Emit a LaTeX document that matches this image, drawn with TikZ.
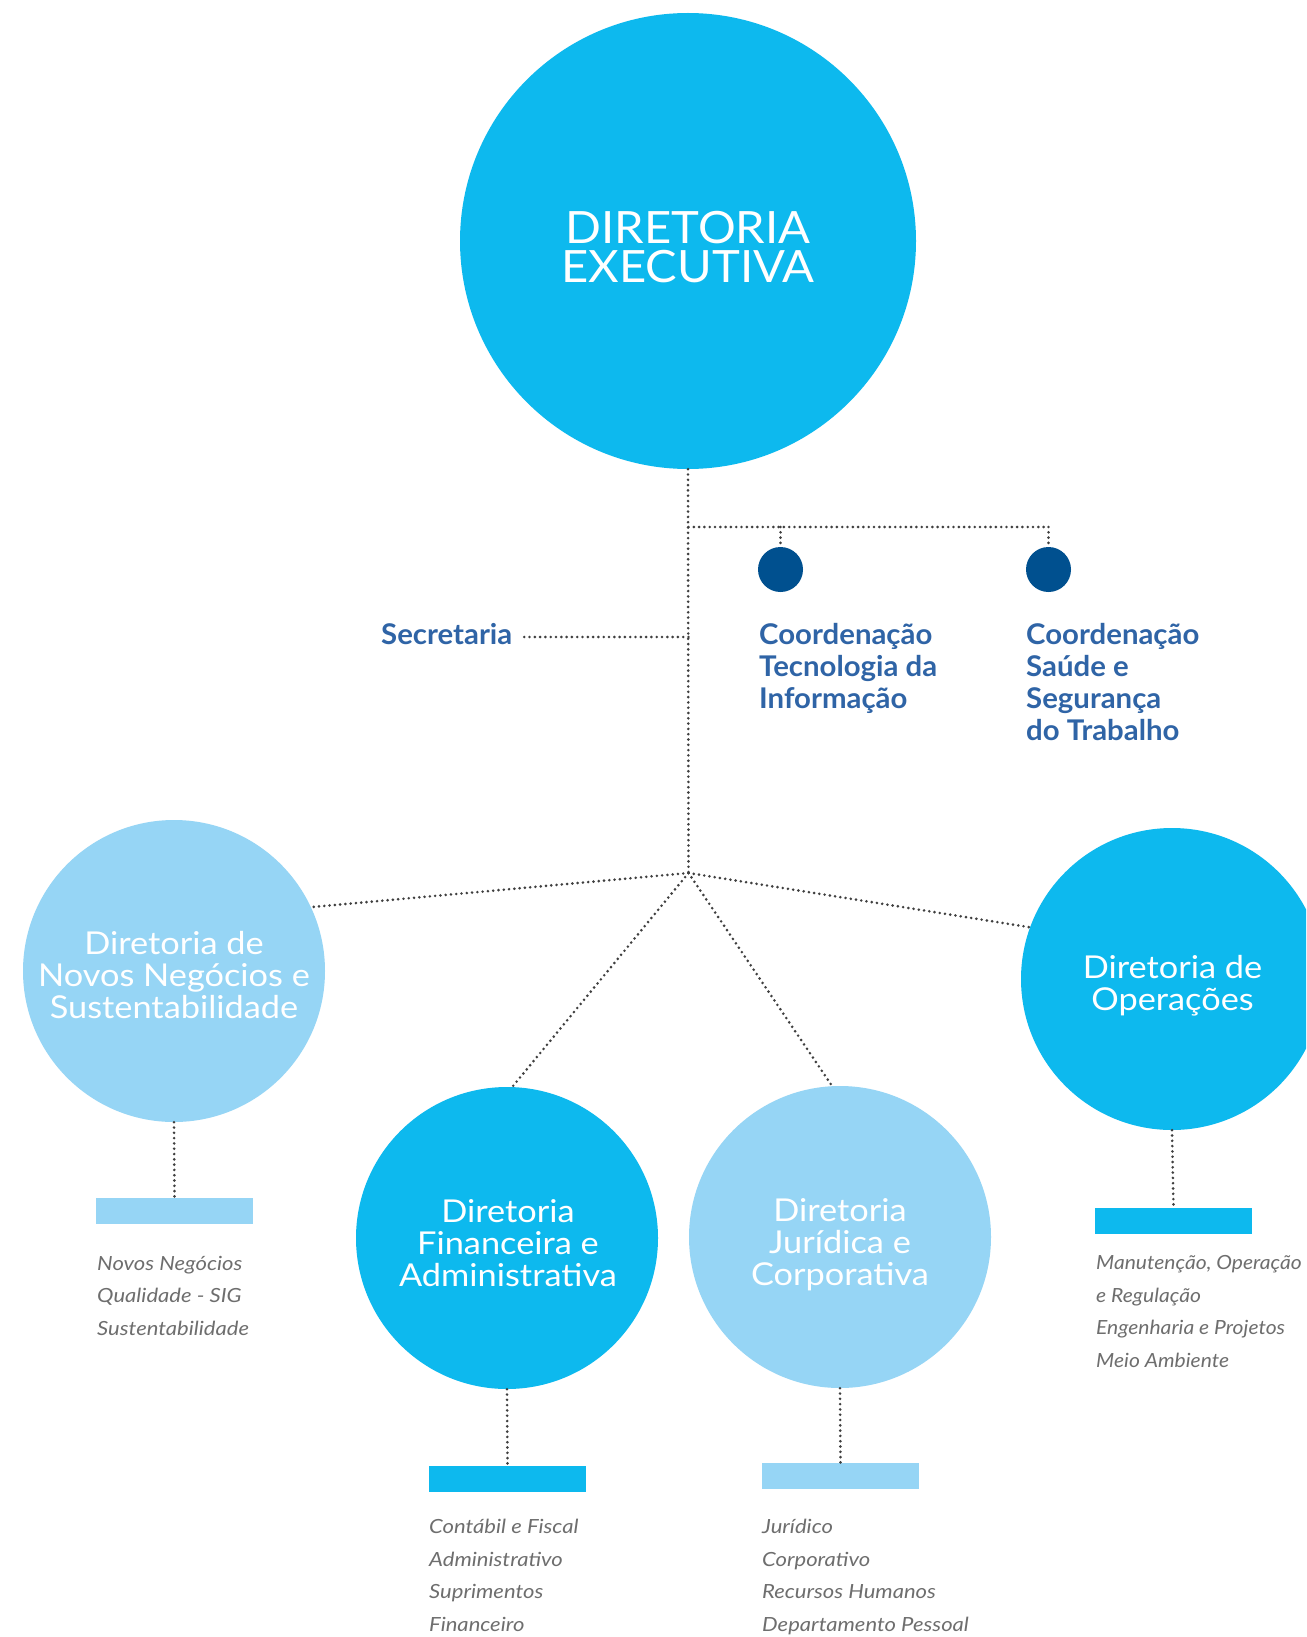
\documentclass[tikz,border=0pt]{standalone}
\usepackage{fontspec}
\setmainfont{Lato}
\newfontfamily\titlefont[FakeStretch=1.06]{Lato}
\newfontfamily\circfont[FakeStretch=1.09]{Lato}
\newfontfamily\labelfont[FakeStretch=1.03]{Lato}
\newfontfamily\listfont[FakeStretch=1.13]{Lato}
\newfontfamily\listfontnarrow[FakeStretch=1.08]{Lato}
\definecolor{cyanmain}{HTML}{0DB9EE}
\definecolor{lightblue}{HTML}{96D5F5}
\definecolor{navy}{HTML}{00508F}
\definecolor{labelblue}{HTML}{2F64A6}
\definecolor{listgray}{HTML}{6E6E6E}
\definecolor{dotgray}{HTML}{3F3F3F}
\tikzset{
  disc/.style={circle, inner sep=0pt, draw=none},
  cyandisc/.style={disc, fill=cyanmain},
  lightdisc/.style={disc, fill=lightblue},
  navydot/.style={disc, fill=navy, minimum size=45pt},
  bar/.style={rectangle, inner sep=0pt, draw=none, minimum width=157pt, minimum height=26pt},
  dotline/.style={draw=dotgray, line width=2.9pt, line cap=round, dash pattern=on 0pt off 5.3pt},
  titletxt/.style={text=white, align=center, inner sep=0pt, anchor=base, font=\titlefont\fontsize{44.5}{39.4}\selectfont},
  circtxt/.style={text=white, align=center, inner sep=0pt, anchor=base, font=\circfont\fontsize{31.5}{32}\selectfont},
  bluelabel/.style={text=labelblue, align=left, inner sep=0pt, anchor=base west, font=\labelfont\fontsize{28.5}{32}\selectfont\bfseries},
  listtxt/.style={text=listgray, align=left, inner sep=0pt, anchor=base west, font=\listfont\fontsize{19.5}{32.5}\selectfont\itshape},
  listtxtnarrow/.style={listtxt, font=\listfontnarrow\fontsize{19.5}{32.5}\selectfont\itshape}
}
\begin{document}
\begin{tikzpicture}[x=1pt,y=-1pt]
\clip (0,0) rectangle (1306,1637);
\fill[white] (0,0) rectangle (1306,1637);

% circles
\node[cyandisc, minimum size=456pt] (de) at (688,241) {};
\node[lightdisc, minimum size=302pt] (nn) at (174,971) {};
\node[cyandisc, minimum size=302pt] (fa) at (507,1238) {};
\node[lightdisc, minimum size=302pt] (jc) at (840,1237) {};
\node[cyandisc, minimum size=302pt] (op) at (1172,979) {};
\node[navydot] (c1) at (780.5,569.5) {};
\node[navydot] (c2) at (1048.5,569.5) {};

% bars
\node[bar, fill=lightblue] (nnb) at (174.5,1211) {};
\node[bar, fill=cyanmain] (fab) at (507.5,1479) {};
\node[bar, fill=lightblue] (jcb) at (840.5,1476) {};
\node[bar, fill=cyanmain] (opb) at (1173.5,1221) {};

% texts in circles (anchor base = last line)
\node[titletxt] (det) at (688,282.7) {DIRETORIA\\EXECUTIVA};
\node[circtxt] (nnt) at (174,1018) {Diretoria de\\Novos Negócios e\\Sustentabilidade};
\node[circtxt] (fat) at (508,1286) {Diretoria\\Financeira e\\Administrativa};
\node[circtxt] (jct) at (840,1285) {Diretoria\\Jurídica e\\Corporativa};
\node[circtxt] (opt) at (1172.5,1010.7) {Diretoria de\\Operações};

% blue labels
\node[bluelabel] (sec) at (381,644) {Secretaria};
\node[bluelabel] (cti) at (759,708.5) {Coordenação\\Tecnologia da\\Informação};
\node[bluelabel] (css) at (1026,740) {Coordenação\\Saúde e\\Segurança\\do Trabalho};

% lists
\node[listtxt] (nnl) at (97,1335) {Novos Negócios\\Qualidade - SIG\\Sustentabilidade};
\node[listtxt] (fal) at (429,1631) {Contábil e Fiscal\\Administrativo\\Suprimentos\\Financeiro};
\node[listtxt] (jcl) at (762,1631) {Jurídico\\Corporativo\\Recursos Humanos\\Departamento Pessoal};
\node[listtxtnarrow] (opl) at (1096,1367) {Manutenção, Operação\\e Regulação\\Engenharia e Projetos\\Meio Ambiente};

% connectors
\coordinate (j) at (688.5,873);
\coordinate (br) at (688.5,527);
\coordinate (sj) at (688.5,637);
\draw[dotline] (de.south) -- (j);
\draw[dotline] (br) -- (br -| c2);
\draw[dotline] (br -| c1) -- (c1.north);
\draw[dotline] (br -| c2) -- (c2.north);
\draw[dotline] (sj) -- ([xshift=10pt]sj -| sec.east);
\draw[dotline] (j) -- (nn.25.5);
\draw[dotline] (j) -- (fa.88);
\draw[dotline] (j) -- (jc.93);
\draw[dotline] (j) -- (op.160);
\draw[dotline] (nn.south) -- (nnb.north);
\draw[dotline] (fa.south) -- (fab.north);
\draw[dotline] (jc.south) -- (jcb.north);
\draw[dotline] (op.south) -- (opb.north);
\end{tikzpicture}
\end{document}
